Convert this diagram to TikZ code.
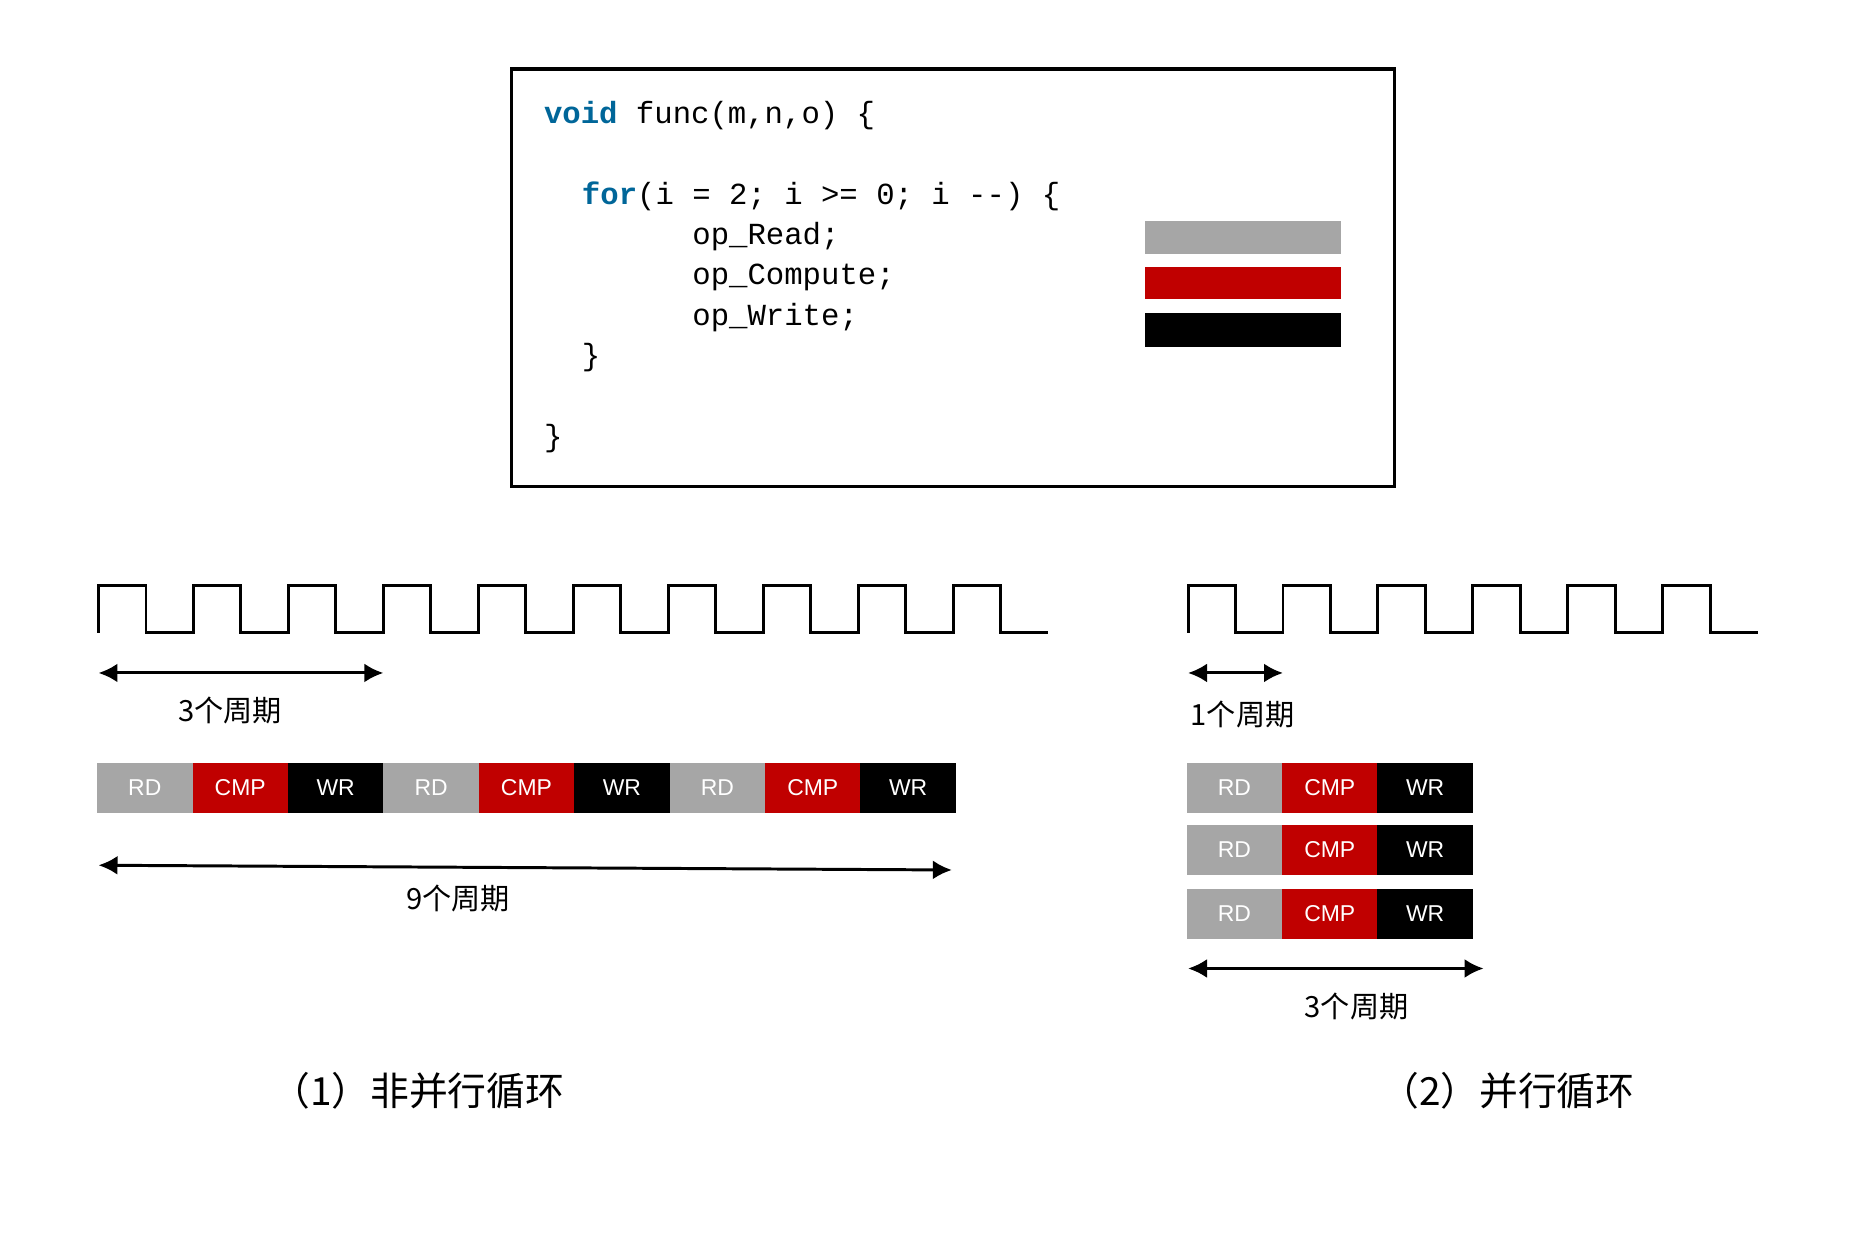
\documentclass[tikz,border=0pt]{standalone}
\usepackage{fontspec}
\setmainfont{Liberation Sans}
\setmonofont{Liberation Mono}
\newfontfamily\cjk{Noto Sans CJK SC}
\usetikzlibrary{positioning,arrows.meta}
\definecolor{rdgray}{RGB}{166,166,166}
\definecolor{cmpred}{RGB}{192,0,0}
\definecolor{kwblue}{RGB}{0,102,153}
\tikzset{
  cell/.style={minimum width=1.608cm, minimum height=0.84cm, inner sep=0pt, outer sep=0pt, text=white, font=\fontsize{11}{13}\selectfont},
  rdcell/.style={cell, fill=rdgray},
  cmpcell/.style={cell, fill=cmpred},
  wrcell/.style={cell, fill=black},
  codeline/.style={anchor=base west, inner sep=0pt, font=\fontsize{14.7}{17}\selectfont\ttfamily},
  cyclabel/.style={inner sep=0pt, font=\cjk\fontsize{14}{16}\selectfont},
  caption/.style={inner sep=0pt, font=\cjk\fontsize{18.6}{22}\selectfont},
  durarrow/.style={line width=0.05cm, {Latex[length=0.32cm,width=0.32cm]}-{Latex[length=0.32cm,width=0.32cm]}},
  clock/.style={line width=0.05cm, line join=miter},
}
\newcommand{\kwd}[1]{\textcolor{kwblue}{\bfseries #1}}
\begin{document}
\begin{tikzpicture}[x=0.02cm, y=-0.02cm]
  \useasboundingbox (0,0) rectangle (1568,1049);

  % code box
  \draw[line width=0.06cm] (431,58) rectangle (1175,410);
  \node[codeline] (l1) at (458,104) {\kwd{void} func(m,n,o) \{};
  \node[codeline] (l2) at (490,172) {\kwd{for}(i = 2; i >= 0; i -{}-) \{};
  \node[codeline] (l3) at (583,206) {op\_Read;};
  \node[codeline] (l4) at (583,240) {op\_Compute;};
  \node[codeline] (l5) at (583,274) {op\_Write;};
  \node[codeline] (l6) at (490,308) {\}};
  \node[codeline] (l7) at (458,376) {\}};
  % legend
  \fill[rdgray] (965,186) rectangle (1130,214);
  \fill[cmpred] (965,225) rectangle (1130,252);
  \fill[black]  (965,264) rectangle (1130,292);

  % (1) non-parallel
  \draw[clock] (83,533) foreach \i in {1,...,10} { -- ++(0,-40) -- ++(40,0) -- ++(0,40) -- ++(40,0) };
  \coordinate (a1) at (83,567);
  \coordinate (a2) at (323,567);
  \draw[durarrow] (a1) -- (a2);
  \node[cyclabel] (t3) at (194,599) {3个周期};
  \foreach \k in {1,2,3} {
    \node[rdcell] (rd\k) at ({122+241.2*(\k-1)},664) {RD};
    \node[cmpcell, right=0pt of rd\k] (cmp\k) {CMP};
    \node[wrcell, right=0pt of cmp\k] (wr\k) {WR};
  }
  \coordinate (b1) at (83,729);
  \coordinate (b2) at (802,733);
  \draw[durarrow] (b1) -- (b2);
  \node[cyclabel] (t9) at (386,757) {9个周期};
  \node[caption] (cap1) at (352,919) {（1）非并行循环};

  % (2) parallel
  \draw[clock] (1001,533) foreach \i in {1,...,6} { -- ++(0,-40) -- ++(40,0) -- ++(0,40) -- ++(40,0) };
  \coordinate (c1) at (1001,567);
  \coordinate (c2) at (1081,567);
  \draw[durarrow] (c1) -- (c2);
  \node[cyclabel] (t1) at (1047,602) {1个周期};
  \foreach \k/\y in {1/664,2/716,3/770} {
    \node[rdcell] (prd\k) at (1040,\y) {RD};
    \node[cmpcell, right=0pt of prd\k] (pcmp\k) {CMP};
    \node[wrcell, right=0pt of pcmp\k] (pwr\k) {WR};
  }
  \coordinate (d1) at (1001,816);
  \coordinate (d2) at (1250,816);
  \draw[durarrow] (d1) -- (d2);
  \node[cyclabel] (tp3) at (1143,848) {3个周期};
  \node[caption] (cap2) at (1270,919) {（2）并行循环};
\end{tikzpicture}
\end{document}
